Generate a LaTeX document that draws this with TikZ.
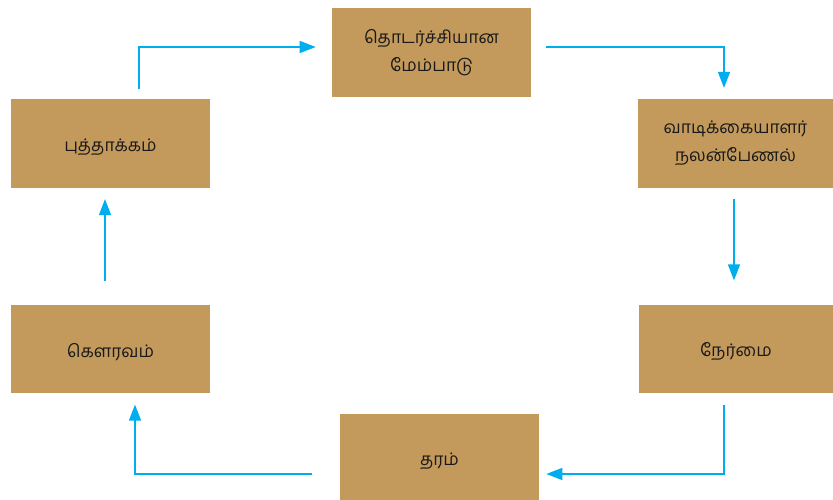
\documentclass[tikz,border=0pt]{standalone}
\usepackage{fontspec}
\setmainfont[Script=Tamil]{Hind Madurai}
\usepackage{xcolor}
\definecolor{boxtan}{HTML}{C49A5C}
\definecolor{flowblue}{HTML}{00AEEF}
\usepackage{tikz}
\usetikzlibrary{arrows.meta,calc,positioning}
\tikzset{
  every picture/.style={line join=miter},
  box/.style={fill=boxtan, draw=none, inner sep=0pt, minimum width=149.25pt,
    minimum height=66.5pt, align=center, text=black!90,
    font=\fontsize{13}{21}\selectfont,
    execute at begin node={\rule{0pt}{15pt}}},
  flow/.style={flowblue, line width=1pt, -{Triangle[length=12pt,width=9pt]}},
}

\begin{document}
\begin{tikzpicture}[x=0.75pt, y=0.75pt]
\useasboundingbox (0,0) rectangle (833,500);

% ------------------------------------------------------------------ boxes
\node[box] (top)  at (431.5,447.5) {தொடர்ச்சியான\\மேம்பாடு};
\node[box, minimum width=146.25pt] (cust) at (735.5,356.5) {வாடிக்கையாளர்\\நலன்பேணல்};
\node[box, minimum width=146.25pt] (hon)  at (736,151) {நேர்மை};
\node[box] (qual) at (439.5,42) {தரம்};
\node[box] (dig)  at (110.5,151) {கௌரவம்};
\node[box] (inn)  at (110.5,356.5) {புத்தாக்கம்};

% ------------------------------------------------------------------ cycle
\draw[flow] ($(inn.north)+(28.5,10)$) |- ($(top.west)+(-16,5.5)$);
\draw[flow] ($(top.east)+(15,5.5)$) -| ($(cust.north)+(-11.5,11)$);
\draw[flow] ($(cust.south)+(-1.5,-11)$) -- ($(hon.north)+(-2,24)$);
\draw[flow] ($(hon.south)+(-12,-11)$) |- ($(qual.east)+(7,-16)$);
\draw[flow] ($(qual.west)+(-28,-16)$) -| ($(dig.south)+(24.5,-11)$);
\draw[flow] ($(dig.north)+(-5.5,23)$) -- ($(inn.south)+(-5.5,-11)$);
\end{tikzpicture}
\end{document}
